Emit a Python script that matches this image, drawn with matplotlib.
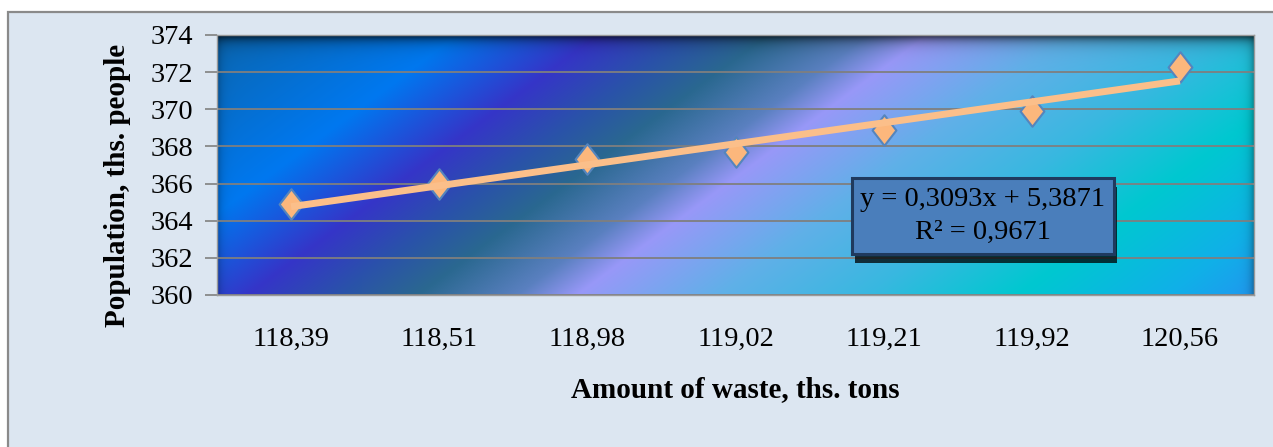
import numpy as np
import matplotlib
matplotlib.use('Agg')
import matplotlib.pyplot as plt
from matplotlib.patches import Rectangle
from matplotlib.path import Path

waste = ['118,39', '118,51', '118,98', '119,02', '119,21', '119,92', '120,56']
population = [364.9, 366.0, 367.3, 367.7, 368.9, 369.9, 372.3]
y_ticks = [360, 362, 364, 366, 368, 370, 372, 374]
equation = 'y = 0,3093x + 5,3871'
r2_text = 'R² = 0,9671'

plt.rcParams['font.family'] = ['Liberation Serif', 'DejaVu Serif']

W, H = 1273, 447
fig = plt.figure(figsize=(W / 100, H / 100), dpi=100, facecolor='white')

# outer chart frame
fig.patches.append(Rectangle((8 / W, -0.1), 1.2, 1 - 12 / H + 0.1, transform=fig.transFigure,
                             facecolor='#dce6f1', edgecolor='#8a8a8a', linewidth=1.6, zorder=-1))

ax = fig.add_axes([217 / W, 152 / H, 1037 / W, 260 / H])
ax.set_facecolor('none')

# diagonal gradient fill of the plot area
ph, pw = 260, 1037
yy, xx = np.mgrid[0:ph, 0:pw]
u = xx + 1.35 * yy
stops = [(0, '#0a66b0'), (240, '#0078f0'), (380, '#3535c8'), (470, '#2a52aa'),
         (550, '#2a6890'), (650, '#5a80c0'), (710, '#9898f8'), (850, '#60b0e8'),
         (1000, '#38b8e0'), (1150, '#00c8d0'), (1300, '#10b0e8'), (1388, '#2098f0')]
pos = [s[0] for s in stops]
cols = np.array([matplotlib.colors.to_rgb(s[1]) for s in stops])
img = np.zeros((ph, pw, 3))
for c in range(3):
    img[..., c] = np.interp(u, pos, cols[:, c])
shade = 1 - 0.75 * np.exp(-yy / 6.0)
shade *= 1 - 0.3 * np.exp(-xx / 4.0)
shade *= 1 - 0.3 * np.exp(-(pw - 1 - xx) / 4.0)
img *= shade[..., None]
ax.imshow(img, extent=[-0.5, 6.5, 360, 374], aspect='auto', zorder=0, interpolation='bilinear')

x = np.arange(len(waste))
ax.set_xlim(-0.5, 6.5)
ax.set_ylim(360, 374)
ax.set_yticks(y_ticks)
ax.set_xticks(x)
ax.set_xticklabels(waste)
ax.set_axisbelow(True)
ax.grid(axis='y', color='#7f7f7f', linewidth=1.3)
ax.grid(axis='x', visible=False)
for s in ax.spines.values():
    s.set_color('#9a9a9a')
    s.set_linewidth(1.0)
ax.tick_params(axis='y', direction='out', length=8.6, width=1.2, color='#808080', pad=8.6, labelsize=20.5)
ax.tick_params(axis='x', length=0, pad=23, labelsize=20.5)

# diamond marker, slightly taller than wide
diamond = Path([(0, 1), (0.78, 0), (0, -1), (-0.78, 0), (0, 1)],
               [Path.MOVETO, Path.LINETO, Path.LINETO, Path.LINETO, Path.CLOSEPOLY])
ax.plot(x, population, linestyle='none', marker=diamond, markersize=22,
        markerfacecolor='#fcb77c', markeredgecolor='#5585bd', markeredgewidth=1.5, zorder=3)

# linear trend
k, b = np.polyfit(x, population, 1)
ax.plot(x, k * x + b, color='#fbbf8a', linewidth=5, solid_capstyle='butt', zorder=4)

ax.set_ylabel('Population, ths. people', fontsize=21, fontweight='bold')
ax.yaxis.set_label_coords(-0.083, 0.423)
ax.set_xlabel('Amount of waste, ths. tons', fontsize=21, fontweight='bold')
ax.xaxis.set_label_coords(0.5, -0.31)

# equation box with drop shadow
bx0, by0, bx1, by1 = 852, 178, 1114, 254
fig.patches.append(Rectangle(((bx0 + 3) / W, (H - by1 - 9) / H), (bx1 - bx0) / W, (by1 - by0) / H,
                             transform=fig.transFigure, facecolor='black', alpha=0.75,
                             edgecolor='none', zorder=5))
fig.patches.append(Rectangle((bx0 / W, (H - by1) / H), (bx1 - bx0) / W, (by1 - by0) / H,
                             transform=fig.transFigure, facecolor='#4a7ebb',
                             edgecolor='#1f3a5e', linewidth=2.2, zorder=6))
fig.text((bx0 + bx1) / 2 / W, 1 - 200 / H, equation, ha='center', va='center', fontsize=20.5, zorder=7)
fig.text((bx0 + bx1) / 2 / W, 1 - 232 / H, r2_text, ha='center', va='center', fontsize=20.5, zorder=7)

fig.savefig('out.png', dpi=100, facecolor='white')
